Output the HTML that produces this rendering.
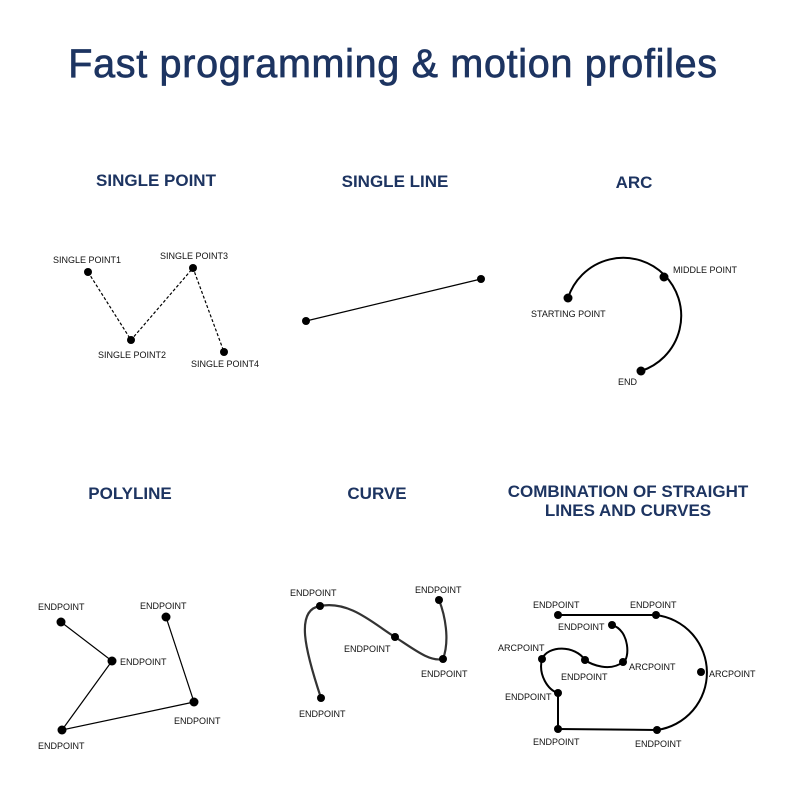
<!DOCTYPE html>
<html><head><meta charset="utf-8"><style>
html,body{margin:0;padding:0;background:#fff;}
svg{display:block;}
.t{font-family:"Liberation Sans",sans-serif;font-weight:bold;fill:#1d3461;}
.l{font-family:"Liberation Sans",sans-serif;font-size:9px;fill:#111;}
</style></head><body>
<svg width="790" height="790" viewBox="0 0 790 790" xmlns="http://www.w3.org/2000/svg">
<text x="393" y="77" text-anchor="middle" font-family="Liberation Sans, sans-serif" font-size="39.5" letter-spacing="0.7" fill="#1d3461" stroke="#1d3461" stroke-width="0.7">Fast programming &amp; motion profiles</text>
<g class="t" font-size="17" text-anchor="middle">
<text x="156" y="186">SINGLE POINT</text>
<text x="395" y="187">SINGLE LINE</text>
<text x="634" y="188">ARC</text>
<text x="130" y="499">POLYLINE</text>
<text x="377" y="499">CURVE</text>
<text x="628" y="497">COMBINATION OF STRAIGHT</text>
<text x="628" y="516">LINES AND CURVES</text>
</g>
<g stroke="#000" fill="none" stroke-width="1.2">
<polyline points="88,272 131,340 193,268 224,352" stroke-dasharray="3,2"/>
<line x1="306" y1="321" x2="481" y2="279"/>
<path d="M568 298 A58 58 0 1 1 641 371" stroke-width="2"/>
<polyline points="61,622 112,661 62,730 194,702 166,617"/>
<path d="M321,698 C305,650 295,610 320,606 C350,600 375,625 395,637 C415,650 430,662 443,659 C450,640 445,615 439,600" stroke="#333" stroke-width="2.2"/>
<g stroke-width="2">
<line x1="558" y1="615" x2="656" y2="615"/>
<line x1="558" y1="693" x2="558" y2="729"/>
<line x1="558" y1="729" x2="657" y2="730"/>
<path d="M656 615 A58 58 0 0 1 657 730"/>
<path d="M612 625 C630 630 630 660 623 662 C610 672 592 665 585 660 C575 645 548 645 542 659 C538 675 548 690 558 693"/>
</g>
</g>
<g fill="#000">
<circle cx="88" cy="272" r="4"/><circle cx="131" cy="340" r="4"/><circle cx="193" cy="268" r="4"/><circle cx="224" cy="352" r="4"/>
<circle cx="306" cy="321" r="4"/><circle cx="481" cy="279" r="4"/>
<circle cx="568" cy="298" r="4.5"/><circle cx="664" cy="277" r="4.5"/><circle cx="641" cy="371" r="4.5"/>
<circle cx="61" cy="622" r="4.5"/><circle cx="112" cy="661" r="4.5"/><circle cx="62" cy="730" r="4.5"/><circle cx="194" cy="702" r="4.5"/><circle cx="166" cy="617" r="4.5"/>
<circle cx="320" cy="606" r="4"/><circle cx="395" cy="637" r="4"/><circle cx="443" cy="659" r="4"/><circle cx="439" cy="600" r="4"/><circle cx="321" cy="698" r="4"/>
<circle cx="558" cy="615" r="4"/><circle cx="656" cy="615" r="4"/><circle cx="612" cy="625" r="4"/><circle cx="623" cy="662" r="4"/><circle cx="585" cy="660" r="4"/><circle cx="542" cy="659" r="4"/><circle cx="558" cy="693" r="4"/><circle cx="558" cy="729" r="4"/><circle cx="657" cy="730" r="4"/><circle cx="701" cy="672" r="4"/>
</g>
<g class="l">
<text x="53" y="263">SINGLE POINT1</text>
<text x="160" y="259">SINGLE POINT3</text>
<text x="98" y="358">SINGLE POINT2</text>
<text x="191" y="367">SINGLE POINT4</text>
<text x="673" y="273">MIDDLE POINT</text>
<text x="531" y="317">STARTING POINT</text>
<text x="618" y="385">END</text>
<text x="38" y="610">ENDPOINT</text>
<text x="140" y="609">ENDPOINT</text>
<text x="120" y="665">ENDPOINT</text>
<text x="174" y="724">ENDPOINT</text>
<text x="38" y="749">ENDPOINT</text>
<text x="290" y="596">ENDPOINT</text>
<text x="415" y="593">ENDPOINT</text>
<text x="344" y="652">ENDPOINT</text>
<text x="421" y="677">ENDPOINT</text>
<text x="299" y="717">ENDPOINT</text>
<text x="533" y="608">ENDPOINT</text>
<text x="630" y="608">ENDPOINT</text>
<text x="558" y="630">ENDPOINT</text>
<text x="498" y="651">ARCPOINT</text>
<text x="629" y="670">ARCPOINT</text>
<text x="561" y="680">ENDPOINT</text>
<text x="709" y="677">ARCPOINT</text>
<text x="505" y="700">ENDPOINT</text>
<text x="533" y="745">ENDPOINT</text>
<text x="635" y="747">ENDPOINT</text>
</g>
</svg>
</body></html>
